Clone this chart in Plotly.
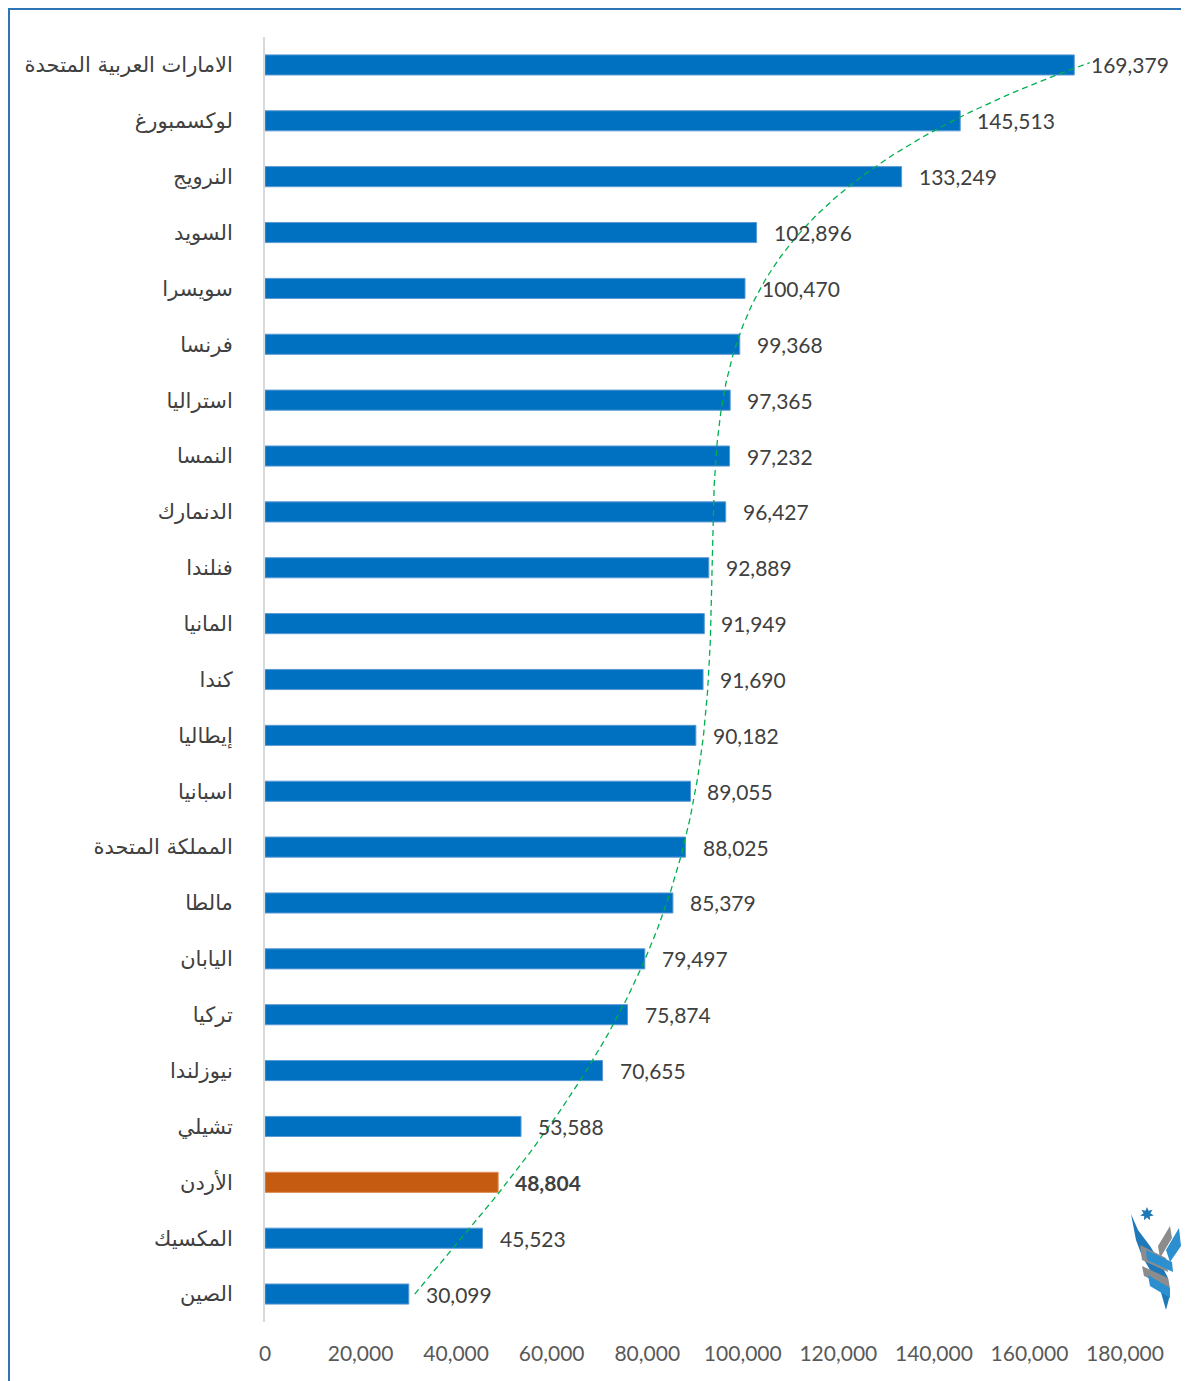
import numpy as np
import plotly.graph_objects as go

# Data (top to bottom as shown)
countries = ["الامارات العربية المتحدة", "لوكسمبورغ", "النرويج", "السويد", "سويسرا", "فرنسا",
             "استراليا", "النمسا", "الدنمارك", "فنلندا", "المانيا", "كندا", "إيطاليا", "اسبانيا",
             "المملكة المتحدة", "مالطا", "اليابان", "تركيا", "نيوزلندا", "تشيلي", "الأردن",
             "المكسيك", "الصين"]
values = [169379, 145513, 133249, 102896, 100470, 99368, 97365, 97232, 96427, 92889, 91949,
          91690, 90182, 89055, 88025, 85379, 79497, 75874, 70655, 53588, 48804, 45523, 30099]
highlight = "الأردن"
x_ticks = [0, 20000, 40000, 60000, 80000, 100000, 120000, 140000, 160000, 180000]
trend_degree = 6

cats = countries[::-1]
vals = values[::-1]
idx = list(range(len(cats)))

W, H = 1189, 1381
OFF = 8  # page body margin
L, R, T, B = 265 - OFF, 72, 37 - OFF, 67
pw, ph = W - L - R, H - T - B

def px(x, y):
    return (x - OFF - L) / pw, (H - B - (y - OFF)) / ph

colors = ["#C55A11" if c == highlight else "#0070C0" for c in cats]
edges = ["#E0905A" if c == highlight else "#5B9BD5" for c in cats]

fig = go.Figure()
fig.add_trace(go.Bar(x=vals, y=idx, orientation="h",
                     marker=dict(color=colors, line=dict(width=1, color=edges)),
                     width=0.36, hoverinfo="skip"))

# polynomial trendline fitted to the data (spreadsheet-style trendline)
coef = np.polyfit(np.array(idx) + 1, vals, trend_degree)
tx = np.linspace(1, len(idx) + 0.04, 300)
fig.add_trace(go.Scatter(x=np.polyval(coef, tx), y=tx - 1, mode="lines", cliponaxis=False,
                         line=dict(color="#00B050", dash="6px,4px", width=1.3), hoverinfo="skip"))

ann = []
for c, v, i in zip(cats, vals, idx):
    t = f"{v:,}"
    if c == highlight:
        t = f"<b>{t}</b>"
    ann.append(dict(x=v, y=i, xref="x", yref="y", text=t, showarrow=False, xanchor="left",
                    yanchor="middle", xshift=15, font=dict(family="Lato", size=21, color="#404040")))

shapes = []
x0, y0 = px(OFF + 1, H + 30)
x1, y1 = px(W + 30, OFF + 1)
shapes.append(dict(type="rect", xref="paper", yref="paper", x0=x0, y0=y0, x1=x1, y1=y1,
                   line=dict(color="#2E75B6", width=2), fillcolor="rgba(0,0,0,0)", layer="above"))

def path(pts):
    s = ""
    for k, (a, b) in enumerate(pts):
        xx, yy = px(a, b)
        s += ("M" if k == 0 else "L") + f"{xx:.5f},{yy:.5f} "
    return s + "Z"

logo = [
    ([(1131, 1214), (1138, 1230), (1150, 1246), (1160, 1262), (1168, 1278), (1170, 1295), (1166, 1310),
      (1162, 1296), (1158, 1282), (1150, 1270), (1142, 1256), (1136, 1240)], "#1F78B8"),
    ([(1158, 1246), (1170, 1226), (1172, 1238), (1160, 1258)], "#8C8C8C"),
    ([(1166, 1250), (1179, 1228), (1181, 1246), (1170, 1262)], "#2B8FD0"),
    ([(1140, 1245), (1166, 1258), (1168, 1272), (1142, 1260)], "#8C8C8C"),
    ([(1142, 1266), (1168, 1278), (1170, 1288), (1144, 1276)], "#8C8C8C"),
    ([(1146, 1250), (1172, 1262), (1173, 1272), (1147, 1260)], "#2B8FD0"),
    ([(1148, 1275), (1170, 1288), (1170, 1298), (1150, 1286)], "#2B8FD0"),
]
cx, cy, ro, ri = 1147, 1214, 7, 3.5
star = []
for k in range(14):
    a = -np.pi / 2 + k * np.pi / 7
    r = ro if k % 2 == 0 else ri
    star.append((cx + r * np.cos(a), cy + r * np.sin(a)))
logo.append((star, "#1F78B8"))
for pts, col in logo:
    shapes.append(dict(type="path", xref="paper", yref="paper", path=path(pts), fillcolor=col,
                       line=dict(width=0), layer="above"))

fig.update_layout(
    width=W, height=H, margin=dict(l=L, r=R, t=T, b=B),
    paper_bgcolor="white", plot_bgcolor="white", showlegend=False,
    bargap=0.64, annotations=ann, shapes=shapes,
    xaxis=dict(range=[0, 180000], tickvals=x_ticks, ticktext=[f"{t:,}" for t in x_ticks],
               showgrid=False, zeroline=False, showline=False, ticks="",
               tickfont=dict(family="Lato", size=21, color="#595959"), ticklabelstandoff=17),
    yaxis=dict(range=[-0.5, len(idx) - 0.5], tickvals=idx, ticktext=cats, showgrid=False,
               zeroline=False, showline=True, linecolor="#D9D9D9", linewidth=2, ticks="",
               tickfont=dict(family="DejaVu Sans", size=21, color="#404040"), ticklabelstandoff=26),
)
fig.write_html("out.html")
